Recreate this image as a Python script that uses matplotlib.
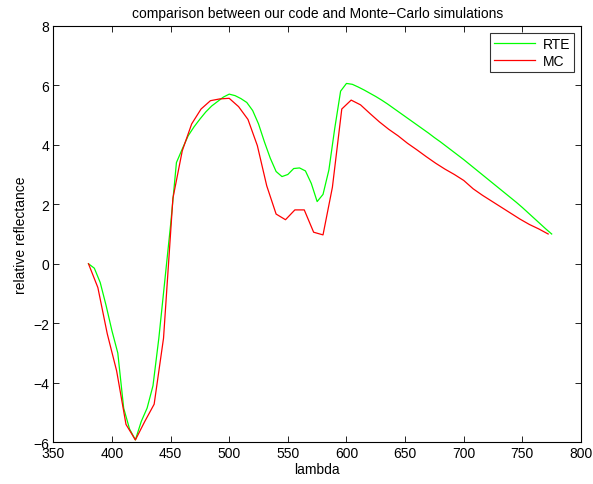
import matplotlib
matplotlib.use("Agg")
import matplotlib.pyplot as plt
import numpy as np

plt.rcParams['font.family'] = ['Liberation Sans', 'DejaVu Sans']

# RTE (green), 5 nm sampling
rte_lambda = list(range(380, 780, 5))
rte_values = [
    0.00, -0.15, -0.63, -1.40, -2.25, -3.00, -4.85, -5.55, -5.92, -5.30,
    -4.85, -4.10, -2.50, -0.60, 1.30, 3.40, 3.86, 4.30, 4.60, 4.86,
    5.10, 5.30, 5.45, 5.60, 5.70, 5.65, 5.55, 5.42, 5.15, 4.70,
    4.10, 3.55, 3.10, 2.93, 3.00, 3.20, 3.22, 3.12, 2.70, 2.09,
    2.33, 3.15, 4.55, 5.80, 6.06, 6.03, 5.94, 5.84, 5.73, 5.62,
    5.50, 5.37, 5.23, 5.09, 4.95, 4.81, 4.67, 4.53, 4.39, 4.24,
    4.10, 3.95, 3.80, 3.65, 3.50, 3.34, 3.18, 3.02, 2.86, 2.70,
    2.54, 2.38, 2.22, 2.06, 1.89, 1.71, 1.53, 1.35, 1.17, 1.00,
]

# MC (red), 8 nm sampling
mc_lambda = list(range(380, 780, 8))
mc_values = [
    0.00, -0.80, -2.35, -3.60, -5.40, -5.92, -5.30, -4.72, -2.50, 2.20,
    3.80, 4.70, 5.20, 5.48, 5.54, 5.56, 5.28, 4.85, 3.97, 2.62,
    1.67, 1.48, 1.81, 1.81, 1.06, 0.97, 2.57, 5.20, 5.50, 5.34,
    5.05, 4.77, 4.52, 4.30, 4.05, 3.83, 3.60, 3.38, 3.18, 3.00,
    2.80, 2.52, 2.30, 2.10, 1.90, 1.70, 1.50, 1.32, 1.17, 1.00,
]

x_ticks = [350, 400, 450, 500, 550, 600, 650, 700, 750, 800]
y_ticks = [-6, -4, -2, 0, 2, 4, 6, 8]

fig = plt.figure(figsize=(5.93, 4.85), dpi=100)
ax = fig.add_axes([53.3 / 593, 1 - 443.3 / 485, (581 - 53.3) / 593, (443.3 - 26.7) / 485])

ax.plot(rte_lambda, rte_values, color=(0, 1, 0), lw=0.9, label='RTE')
ax.plot(mc_lambda, mc_values, color=(1, 0, 0), lw=0.9, label='MC')

ax.set_xlim(350, 800)
ax.set_ylim(-6, 8)
ax.set_xticks(x_ticks)
ax.set_yticks(y_ticks)
ax.tick_params(direction='in', length=4, width=0.6, top=True, right=True,
               labelsize=10, pad=3)
for s in ax.spines.values():
    s.set_linewidth(0.8)

ax.set_title('comparison between our code and Monte\u2212Carlo simulations', fontsize=10, pad=6)
ax.set_xlabel('lambda', fontsize=10, labelpad=1)
ax.set_ylabel('relative reflectance', fontsize=10, labelpad=4)

leg = ax.legend(loc='upper right', fontsize=10, frameon=True, fancybox=False,
                borderaxespad=0.5, handlelength=3.0, handletextpad=0.5,
                labelspacing=0.2, borderpad=0.3)
leg.get_frame().set_edgecolor('black')
leg.get_frame().set_linewidth(0.8)

fig.savefig('out.png', dpi=100)
